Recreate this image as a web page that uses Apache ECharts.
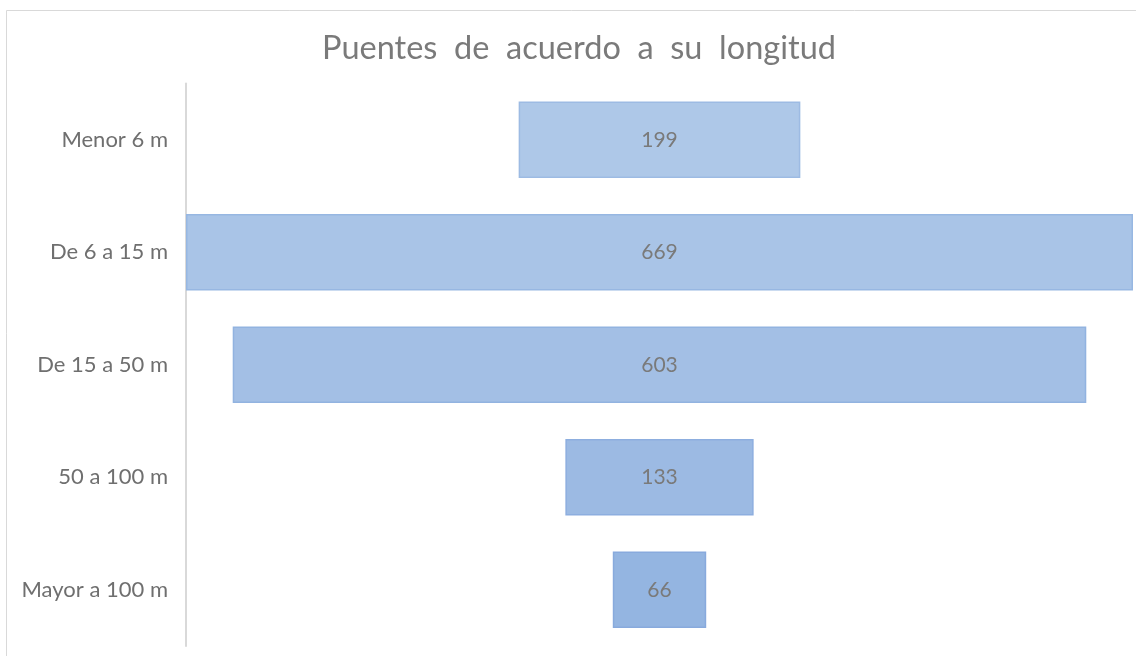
<!DOCTYPE html>
<html>
<head>
<meta charset="utf-8">
<script src="https://cdn.jsdelivr.net/npm/echarts@6/dist/echarts.min.js"></script>
<style>
html,body{margin:0;padding:0;background:#fff;}
#c{width:1136px;height:656px;}
</style>
</head>
<body>
<div id="c"></div>
<script>
var titleText = 'Puentes  de  acuerdo  a  su  longitud';
var categories = ['Menor 6 m', 'De 6 a 15 m', 'De 15 a 50 m', '50 a 100 m', 'Mayor a 100 m'];
var values = [199, 669, 603, 133, 66];
var barColors = ['#aec8e8', '#a9c4e7', '#a3bfe5', '#9cbae3', '#94b5e1'];
var barBorders = ['#9dbbe3', '#97b7e2', '#92b3e0', '#8daedf', '#88aadd'];

var maxVal = Math.max.apply(null, values);
var padding = values.map(function(v){ return (maxVal - v) / 2; });

var chart = echarts.init(document.getElementById('c'), null, {renderer:'canvas'});
chart.setOption({
  animation: false,
  backgroundColor: '#ffffff',
  title: {
    text: titleText,
    left: 574, top: 27, textAlign: 'center',
    textStyle: {fontFamily: 'Lato', fontWeight: 'normal', fontSize: 32.5, color: '#7a7a7a'}
  },
  graphic: [{
    type: 'rect', silent: true,
    shape: {x: 6.5, y: 10.5, width: 1140, height: 660},
    style: {fill: 'none', stroke: '#d9d9d9', lineWidth: 1}
  }],
  grid: {left: 186, right: 3, top: 83.5, bottom: 10, containLabel: false},
  xAxis: {type: 'value', min: 0, max: maxVal, show: false},
  yAxis: {
    type: 'category', data: categories, inverse: true,
    axisLine: {show: true, lineStyle: {color: '#d9d9d9', width: 2}},
    axisTick: {show: false},
    axisLabel: {margin: 18, fontFamily: 'Lato', fontSize: 22, color: '#6f6f6f'}
  },
  series: [{
    type: 'bar', stack: 'f', data: padding, silent: true,
    itemStyle: {color: 'transparent'}, barCategoryGap: '32%'
  }, {
    type: 'bar', stack: 'f', barCategoryGap: '32%',
    data: values.map(function(v, i){
      return {value: v, itemStyle: {color: barColors[i], borderColor: barBorders[i], borderWidth: 1.5}};
    }),
    label: {show: true, position: 'inside', fontFamily: 'Lato', fontSize: 21, color: '#7a7a7a'}
  }]
});
</script>
</body>
</html>
